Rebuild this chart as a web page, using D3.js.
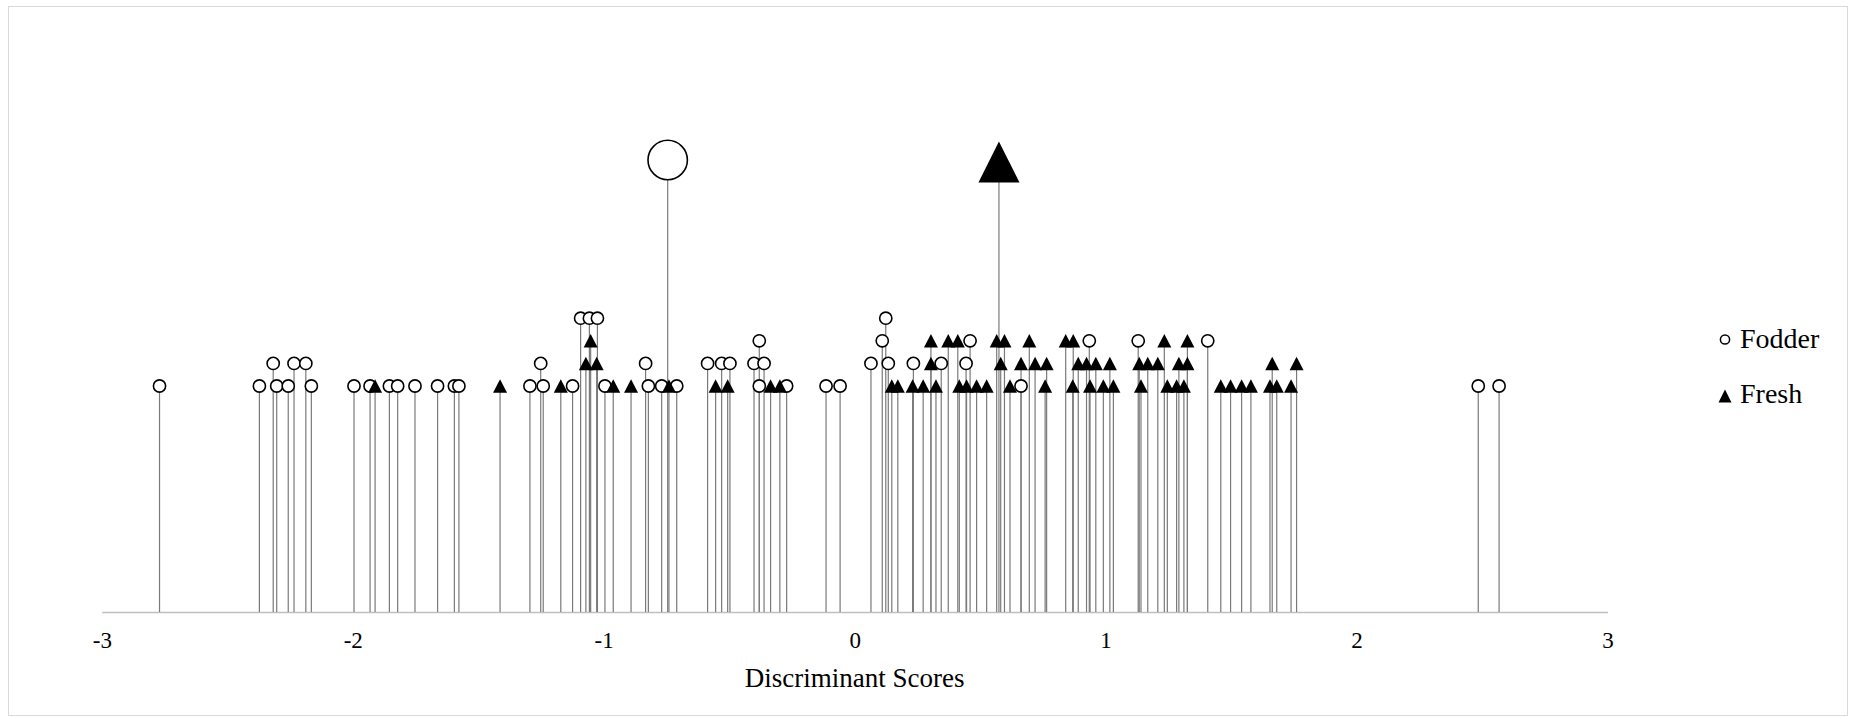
<!DOCTYPE html>
<html>
<head>
<meta charset="utf-8">
<script src="https://cdn.jsdelivr.net/npm/d3@7/dist/d3.min.js"></script>
<style>
  html, body { margin: 0; padding: 0; background: #fff; }
  svg { display: block; }
  svg text { font-family: "Times New Roman", "Liberation Serif", "DejaVu Serif", serif !important; fill: #000; }
</style>
</head>
<body>
<svg id="chart" width="1856" height="719"></svg>
<script>
// ---- data ----
const seriesNames = ["Fodder", "Fresh"];

const fodderScores = [-2.77, -2.372, -2.317, -2.303, -2.257, -2.234, -2.187, -2.165, -1.995,
  -1.931, -1.854, -1.821, -1.752, -1.662, -1.595, -1.577, -1.294, -1.251, -1.241, -1.124,
  -1.092, -1.057, -1.025, -0.995, -0.833, -0.822, -0.769, -0.709, -0.586, -0.530, -0.497,
  -0.401, -0.380, -0.361, -0.380, -0.271, -0.114, -0.058, 0.065, 0.110, 0.124, 0.134,
  0.234, 0.345, 0.444, 0.460, 0.663, 0.935, 1.130, 1.407, 2.485, 2.568];
const fodderLevels = [10, 10, 11, 10, 10, 11, 11, 10, 10,
  10, 10, 10, 10, 10, 10, 10, 10, 11, 10, 10,
  13, 13, 13, 10, 11, 10, 10, 10, 11, 11, 11,
  11, 12, 11, 10, 10, 10, 10, 11, 12, 13, 11,
  11, 11, 11, 12, 10, 12, 12, 12, 10, 10];

const freshScores = [-1.911, -1.413, -1.171, -1.071, -1.052, -1.028, -0.962, -0.891, -0.740,
  -0.554, -0.506, -0.335, -0.298, 0.148, 0.172, 0.231, 0.273, 0.304, 0.304, 0.324,
  0.373, 0.411, 0.417, 0.446, 0.486, 0.526, 0.566, 0.597, 0.582, 0.619, 0.696, 0.663,
  0.719, 0.765, 0.759, 0.841, 0.871, 0.891, 0.924, 0.961, 1.017, 0.869, 0.938, 0.991,
  1.031, 1.134, 1.168, 1.208, 1.141, 1.234, 1.292, 1.326, 1.326, 1.246, 1.283, 1.312,
  1.459, 1.498, 1.542, 1.579, 1.664, 1.655, 1.682, 1.739, 1.761];
const freshLevels = [10, 10, 10, 11, 12, 11, 10, 10, 10,
  10, 10, 10, 10, 10, 10, 10, 10, 12, 11, 10,
  12, 12, 10, 10, 10, 10, 12, 12, 11, 10, 12, 11,
  11, 11, 10, 12, 12, 11, 11, 11, 11, 10, 10, 10,
  10, 11, 11, 11, 10, 12, 11, 11, 12, 10, 10, 10,
  10, 10, 10, 10, 11, 10, 10, 10, 11];

const centroidScores = [-0.745, 0.575];   // Fodder, Fresh group centroids
const centroidLevels = [20, 20];

const xTicks = [-3, -2, -1, 0, 1, 2, 3];
const xTitle = "Discriminant Scores";

// ---- layout ----
const FONT = '"Times New Roman", "Liberation Serif", "DejaVu Serif", serif';
const svg = d3.select("#chart");
const W = 1856, H = 719;
const baseY = 612;
const x = d3.scaleLinear().domain([-3, 3]).range([101.8, 1607.5]);
const y = d3.scaleLinear().domain([0, 25]).range([baseY, 47]);

// chart border
svg.append("rect").attr("x", 8.5).attr("y", 6.5).attr("width", W - 17).attr("height", H - 10)
  .attr("fill", "none").attr("stroke", "#d9d9d9").attr("stroke-width", 1);

const fodder = fodderScores.map((s, i) => ({ s, l: fodderLevels[i] }));
const fresh = freshScores.map((s, i) => ({ s, l: freshLevels[i] }));

const triPath = (w, h) => `M0,${-h / 2}L${w / 2},${h / 2}L${-w / 2},${h / 2}Z`;

// axis
const axis = d3.axisBottom(x).tickValues(xTicks).tickSize(0).tickSizeOuter(0)
  .tickPadding(20).tickFormat(d => String(d));
const gAxis = svg.append("g").attr("transform", `translate(0,${baseY})`).call(axis)
  .attr("font-family", FONT).attr("font-size", 23);
gAxis.select(".domain").attr("stroke", "#bfbfbf").attr("stroke-width", 1.5);
gAxis.selectAll(".tick text")
  .attr("font-family", FONT).attr("font-size", 23).attr("fill", "#000");

// stems + markers: Fodder first
const stemColor = "#7a7a7a";
function stems(data) {
  svg.append("g").selectAll("line").data(data).join("line")
    .attr("x1", d => x(d.s)).attr("x2", d => x(d.s))
    .attr("y1", y(0)).attr("y2", d => y(d.l))
    .attr("stroke", stemColor).attr("stroke-width", 1.2);
}
stems(fodder);
stems(fresh);
stems(centroidScores.map((s, i) => ({ s, l: centroidLevels[i] })));

svg.append("g").selectAll("circle").data(fodder).join("circle")
  .attr("cx", d => x(d.s)).attr("cy", d => y(d.l)).attr("r", 6.1)
  .attr("fill", "#fff").attr("stroke", "#000").attr("stroke-width", 1.6);

svg.append("g").selectAll("path").data(fresh).join("path")
  .attr("transform", d => `translate(${x(d.s)},${y(d.l)})`)
  .attr("d", triPath(14, 13.5)).attr("fill", "#000");

// centroids
svg.append("circle").attr("cx", x(centroidScores[0])).attr("cy", y(centroidLevels[0]))
  .attr("r", 19.7).attr("fill", "#fff").attr("stroke", "#000").attr("stroke-width", 1.6);
svg.append("path")
  .attr("transform", `translate(${x(centroidScores[1])},${y(centroidLevels[1]) + 2})`)
  .attr("d", triPath(41, 41)).attr("fill", "#000");

// axis title
svg.append("text")
  .attr("x", x(0)).attr("y", 687).attr("font-family", FONT)
  .attr("text-anchor", "middle").attr("font-size", 27).text(xTitle);

// legend
const leg = svg.append("g");
const legY = [339.5, 396];
const legBase = [348, 403];
leg.append("circle").attr("cx", 1725).attr("cy", legY[0]).attr("r", 4.6)
  .attr("fill", "#fff").attr("stroke", "#000").attr("stroke-width", 1.5);
leg.append("path").attr("transform", `translate(1725,${legY[1]})`)
  .attr("d", triPath(13, 13)).attr("fill", "#000");
seriesNames.forEach((n, i) => {
  leg.append("text").attr("x", 1740).attr("y", legBase[i]).attr("font-family", FONT)
    .attr("font-size", 28).text(n);
});
</script>
</body>
</html>
